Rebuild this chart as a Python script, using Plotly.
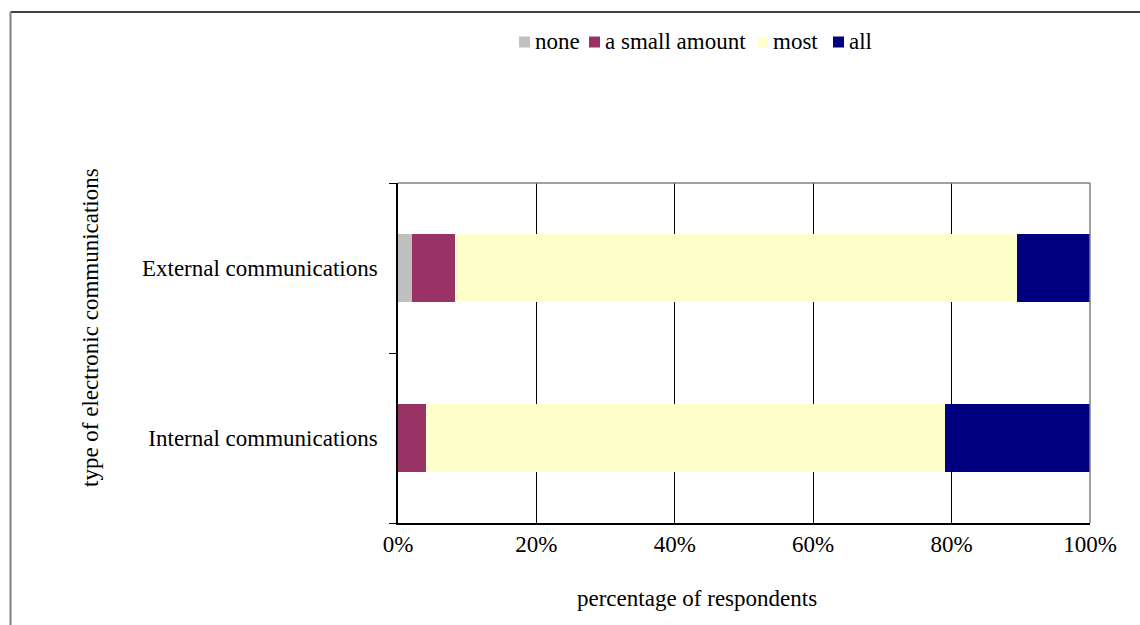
import plotly.graph_objects as go

categories = ["Internal communications", "External communications"]
series_names = ["none", "a small amount", "most", "all"]
none_vals = [0.0, 2.0]
small_vals = [4.0, 6.2]
most_vals = [75.0, 81.3]
all_vals = [21.0, 10.5]
colors = ["#C0C0C0", "#993366", "#FFFFCC", "#000080"]
x_tick_vals = [0, 20, 40, 60, 80, 100]
x_tick_text = ["0%", "20%", "40%", "60%", "80%", "100%"]

FONT = "Liberation Serif"
FS = 23

fig = go.Figure()
for name, vals, col in zip(series_names, [none_vals, small_vals, most_vals, all_vals], colors):
    fig.add_trace(go.Bar(
        y=categories, x=vals, name=name, orientation="h",
        marker=dict(color=col, line=dict(width=0)),
    ))

L, R, T, B = 398, 1090, 183, 523
W, H = 1140, 625
pw, ph = R - L, B - T

def px(x):
    return (x - L) / pw

def py(y):
    return (B - y) / ph

# manual legend (symbol left edges in pixels)
legend_x = [519, 589, 757, 833]
legend_y = 42
sq = 11
annotations = [
    dict(text="percentage of respondents", x=px(697), y=py(598), xref="paper", yref="paper",
         showarrow=False, font=dict(family=FONT, size=FS), xanchor="center", yanchor="middle"),
    dict(text="type of electronic communications", x=px(90), y=py(328), xref="paper", yref="paper",
         showarrow=False, font=dict(family=FONT, size=FS), textangle=-90, xanchor="center", yanchor="middle"),
]
shapes = [
    dict(type="line", xref="paper", yref="paper", x0=0, x1=1, y0=1, y1=1,
         line=dict(color="#808080", width=1.5)),
    dict(type="line", xref="paper", yref="paper", x0=1, x1=1, y0=0, y1=1,
         line=dict(color="#808080", width=1.5)),
    dict(type="line", xref="paper", yref="paper", x0=px(10.5), x1=px(1140), y0=py(12), y1=py(12),
         line=dict(color="#000000", width=1.5)),
    dict(type="line", xref="paper", yref="paper", x0=px(10.5), x1=px(10.5), y0=py(12), y1=py(625),
         line=dict(color="#808080", width=2)),
]
for name, col, lx in zip(series_names, colors, legend_x):
    shapes.append(dict(type="rect", xref="paper", yref="paper",
                       x0=px(lx), x1=px(lx + sq), y0=py(legend_y - 5.5), y1=py(legend_y + 5.5),
                       fillcolor=col, line=dict(width=0)))
    annotations.append(dict(text=name, x=px(lx + sq + 3), y=py(legend_y), xref="paper", yref="paper",
                            showarrow=False, font=dict(family=FONT, size=FS),
                            xanchor="left", yanchor="middle"))

fig.update_layout(
    width=W, height=H,
    margin=dict(l=L, r=W - R, t=T, b=H - B, pad=0),
    barmode="stack", bargap=0.6,
    paper_bgcolor="white", plot_bgcolor="white",
    font=dict(family=FONT, size=FS, color="black"),
    showlegend=False,
    xaxis=dict(range=[0, 100], tickvals=x_tick_vals, ticktext=x_tick_text,
               showgrid=True, gridcolor="#000000", gridwidth=1,
               showline=True, linecolor="#000000", linewidth=1.5,
               mirror=False, ticks="", zeroline=False, fixedrange=True,
               tickfont=dict(family=FONT, size=FS)),
    yaxis=dict(type="category", categoryorder="array", categoryarray=categories,
               showline=True, linecolor="#000000", linewidth=1.5,
               ticks="outside", ticklen=7, tickcolor="#000000", tickson="boundaries",
               showgrid=False, zeroline=False, fixedrange=True,
               tickfont=dict(family=FONT, size=FS), ticklabelstandoff=14),
    annotations=annotations,
    shapes=shapes,
)

fig.write_html("out.html")
